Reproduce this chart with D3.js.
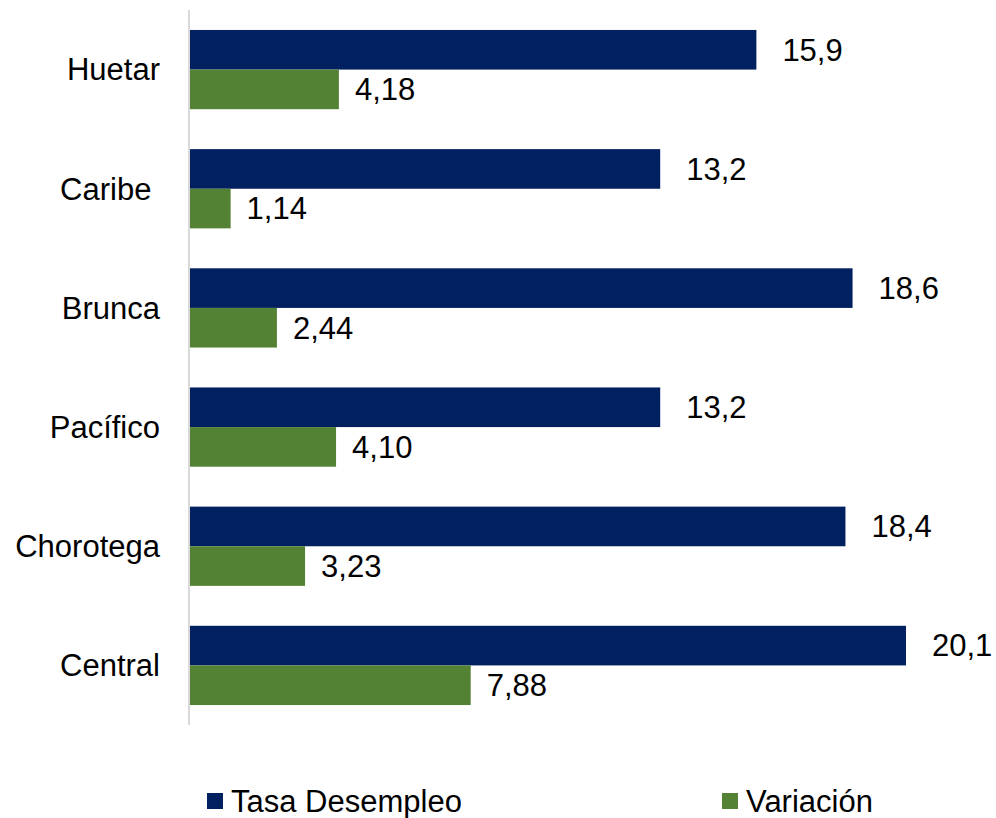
<!DOCTYPE html>
<html><head><meta charset="utf-8">
<script src="https://cdn.jsdelivr.net/npm/d3@7"></script>
<style>body{margin:0;background:#fff}svg{display:block}text{font-family:"Liberation Sans",Arial,sans-serif;white-space:pre}</style>
</head><body>
<svg id="c" width="996" height="818"></svg>
<script>
const categories = ["Huetar", "Caribe ", "Brunca", "Pacífico", "Chorotega", "Central"];
const tasaDesempleo = [15.9, 13.2, 18.6, 13.2, 18.4, 20.1];
const variacion = [4.18, 1.14, 2.44, 4.10, 3.23, 7.88];
const tasaLabels = ["15,9", "13,2", "18,6", "13,2", "18,4", "20,1"];
const variacionLabels = ["4,18", "1,14", "2,44", "4,10", "3,23", "7,88"];
const seriesNames = ["Tasa Desempleo", "Variación"];
const colors = ["#002060", "#548235"];

const svg = d3.select("#c");
const x = d3.scaleLinear().domain([0, 20.1]).range([190, 906]);
const y = d3.scaleBand().domain(categories).range([10, 725]).paddingInner(0.335).paddingOuter(0.1675);
const sub = d3.scaleBand().domain([0, 1]).range([0, y.bandwidth()]);
const fs = 31;

const series = [
  {vals: tasaDesempleo, labels: tasaLabels, off: 26},
  {vals: variacion, labels: variacionLabels, off: 16}
];

series.forEach((s, si) => {
  const g = svg.append("g");
  g.selectAll("rect").data(categories).join("rect")
    .attr("x", x(0))
    .attr("y", d => y(d) + sub(si))
    .attr("width", (d, i) => x(s.vals[i]) - x(0))
    .attr("height", sub.bandwidth())
    .attr("fill", colors[si]);
  g.selectAll("text").data(categories).join("text")
    .attr("x", (d, i) => x(s.vals[i]) + s.off)
    .attr("y", d => y(d) + sub(si) + sub.bandwidth() / 2)
    .attr("dy", "0.35em")
    .attr("font-size", fs)
    .attr("fill", "#000")
    .text((d, i) => s.labels[i]);
});

// category axis
svg.append("line").attr("x1", 189).attr("x2", 189).attr("y1", 10).attr("y2", 725)
  .attr("stroke", "#d9d9d9").attr("stroke-width", 2);
svg.append("g").selectAll("text").data(categories).join("text")
  .attr("x", 160)
  .attr("y", d => y(d) + y.bandwidth() / 2)
  .attr("dy", "0.35em")
  .attr("text-anchor", "end")
  .attr("font-size", fs)
  .attr("fill", "#000")
  .text(d => d);

// legend
const legendX = [207, 722];
const lg = svg.append("g").selectAll("g").data(seriesNames).join("g")
  .attr("transform", (d, i) => `translate(${legendX[i]},793)`);
lg.append("rect").attr("width", 16).attr("height", 16).attr("fill", (d, i) => colors[i]);
lg.append("text").attr("x", 24).attr("y", 8).attr("dy", "0.35em")
  .attr("font-size", fs).attr("fill", "#000").text(d => d);
</script>
</body></html>
